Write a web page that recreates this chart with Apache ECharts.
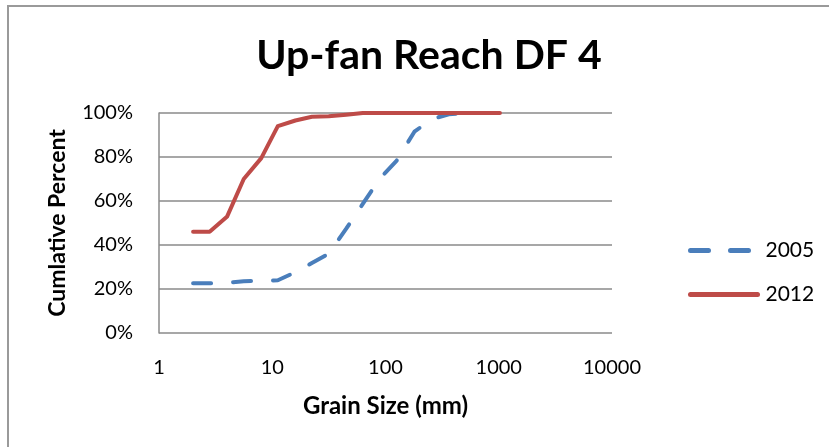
<!DOCTYPE html>
<html>
<head>
<meta charset="utf-8">
<script src="https://cdn.jsdelivr.net/npm/echarts@6/dist/echarts.min.js"></script>
<style>
html,body{margin:0;padding:0;background:#fff;}
#chart{width:829px;height:447px;}
</style>
</head>
<body>
<div id="chart"></div>
<script>
var grainSizes = [2, 2.8, 4, 5.6, 8, 11.2, 16, 22.4, 31.5, 45, 63, 90, 125, 180, 256, 362, 512, 1024];
var pct2005 = [22.6, 22.6, 22.9, 23.5, 23.7, 24.0, 27.6, 31.8, 36.0, 47.4, 58.7, 70.5, 78.2, 91.5, 97.2, 99.4, 100, 100];
var pct2012 = [46.0, 46.0, 53.0, 70.0, 79.5, 94.0, 96.6, 98.3, 98.5, 99.2, 100, 100, 100, 100, 100, 100, 100, 100];
var seriesNames = ['2005', '2012'];
var yTicks = [0, 20, 40, 60, 80, 100];

function pairs(xs, ys) { return xs.map(function (x, i) { return [x, ys[i]]; }); }

var FONT = 'Lato, "Open Sans", sans-serif';
var chart = echarts.init(document.getElementById('chart'), null, { renderer: 'canvas' });
chart.setOption({
  animation: false,
  backgroundColor: '#ffffff',
  title: {
    text: 'Up-fan Reach DF 4',
    left: 424,
    top: 30,
    textAlign: 'center',
    textStyle: { fontFamily: FONT, fontWeight: 'bold', fontSize: 41, color: '#000' }
  },
  graphic: [{
    type: 'rect',
    shape: { x: 8, y: 6, width: 840, height: 460 },
    style: { fill: 'none', stroke: '#9a9a9a', lineWidth: 2 },
    silent: true
  }],
  grid: { left: 159, right: 217, top: 113, bottom: 114 },
  legend: {
    orient: 'vertical',
    left: 683,
    top: 235,
    itemWidth: 67,
    itemHeight: 22,
    itemGap: 23,
    itemStyle: { opacity: 0 },
    lineStyle: { width: 5, cap: 'round' },
    textStyle: { fontFamily: FONT, fontSize: 21, color: '#000', padding: [0, 0, 0, 3] },
    data: [
      { name: '2005', lineStyle: { width: 5, cap: 'round' } },
      { name: '2012', lineStyle: { width: 5, cap: 'round' } }
    ]
  },
  xAxis: {
    type: 'log',
    logBase: 10,
    min: 1,
    max: 10000,
    name: 'Grain Size (mm)',
    nameLocation: 'middle',
    nameGap: 61,
    nameTextStyle: { fontFamily: FONT, fontWeight: 'bold', fontSize: 24, color: '#000' },
    axisLine: { show: false },
    axisTick: { show: false },
    splitLine: { show: false },
    axisLabel: {
      fontFamily: FONT, fontSize: 20, color: '#000', margin: 25,
      formatter: function (v) { return String(Math.round(v)); }
    }
  },
  yAxis: {
    type: 'value',
    min: yTicks[0],
    max: yTicks[yTicks.length - 1],
    interval: 20,
    name: 'Cumlative Percent',
    nameLocation: 'middle',
    nameGap: 90,
    nameTextStyle: { fontFamily: FONT, fontWeight: 'bold', fontSize: 23, color: '#000' },
    axisLine: { show: true, lineStyle: { color: '#8a8a8a', width: 1.5 } },
    axisTick: { show: false },
    splitLine: { show: true, lineStyle: { color: '#8a8a8a', width: 1.5 } },
    axisLabel: { fontFamily: FONT, fontSize: 20, color: '#000', margin: 26, formatter: '{value}%' }
  },
  series: [
    {
      name: seriesNames[0],
      type: 'line',
      data: pairs(grainSizes, pct2005),
      symbol: 'none',
      smooth: false,
      lineStyle: { color: '#4A7EBB', width: 4, type: [18, 22], cap: 'round', join: 'round' },
      itemStyle: { color: '#4A7EBB' },
      z: 2
    },
    {
      name: seriesNames[1],
      type: 'line',
      data: pairs(grainSizes, pct2012),
      symbol: 'none',
      smooth: false,
      lineStyle: { color: '#BE4B48', width: 4, type: 'solid', cap: 'round', join: 'round' },
      itemStyle: { color: '#BE4B48' },
      z: 3
    }
  ]
});
</script>
</body>
</html>
